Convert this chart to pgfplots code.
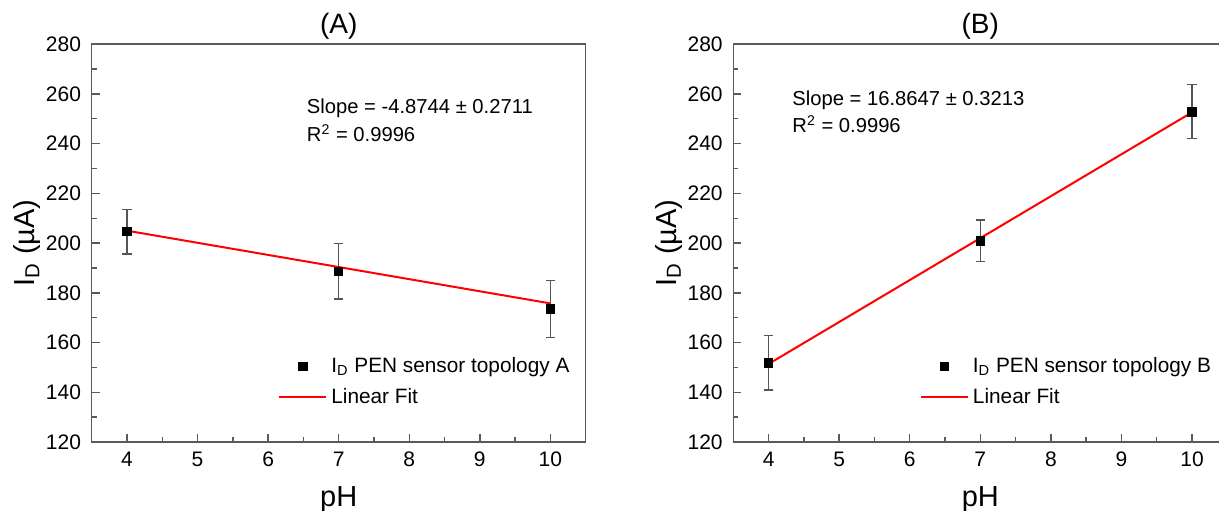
\documentclass[border=0pt]{standalone}
\usepackage{fontspec}
\setmainfont{Liberation Sans}
\usepackage{pgfplots}
\usepackage{pgfplotstable}
\pgfplotsset{compat=1.18}

\definecolor{axisgray}{HTML}{5A5A5A}
\definecolor{errgray}{HTML}{555555}

% pH, drain current (uA), standard deviation
\pgfplotstableread{
pH   ID     err
4    204.6  9.0
7    188.7  11.2
10   173.5  11.6
}\dataA
\pgfplotstableread{
pH   ID     err
4    151.8  10.9
7    200.9  8.4
10   252.8  10.9
}\dataB

\newcommand{\annofont}{\fontsize{10.1}{12}\selectfont}

\pgfplotsset{
  every axis title shift=0pt,
  panel/.style={
    scale only axis, width=247pt, height=198.9pt,
    anchor=south west,
    xmin=3.5, xmax=10.5, ymin=120, ymax=280,
    xtick={4,5,...,10}, ytick={120,140,...,280},
    minor x tick num=1, minor y tick num=1,
    tick align=inside, xtick pos=bottom, ytick pos=left,
    axis line style={draw=axisgray, line width=0.8pt},
    major tick length=4pt, minor tick length=2.5pt,
    every tick/.style={draw=axisgray, line width=0.7pt},
    tick label style={font=\fontsize{10.5}{12}\selectfont},
    /pgf/number format/assume math mode=true,
    yticklabel style={xshift=-1.8pt},
    xticklabel style={yshift=-1.5pt},
    label style={font=\fontsize{14.5}{17}\selectfont},
    xlabel style={yshift=-3pt},
    ylabel style={at={(axis description cs:-0.13,0.5)}, anchor=center},
    title style={font=\fontsize{14}{16}\selectfont, at={(axis description cs:0.5,1)}, anchor=center, yshift=8.8pt},
    legend cell align=left,
    legend image code/.code={\draw[mark repeat=2, mark phase=2, ##1] plot coordinates {(0pt,0pt) (11.75pt,0pt) (23.5pt,0pt)};},
    legend style={draw=none, fill=none, font=\fontsize{10.4}{12}\selectfont,
      row sep=2.5pt, inner sep=0pt, anchor=west, at={(axis description cs:0.377,0.151)}},
    clip=false,
  },
  pts/.style={only marks, mark=square*, mark size=2.1pt, black,
    error bars/.cd, y dir=both, y explicit,
    error bar style={draw=errgray, line width=0.55pt},
    error mark options={rotate=90, mark size=2.4pt, draw=errgray, line width=0.55pt}},
  fit/.style={red, line width=1pt, no marks},
}

\begin{document}
\begin{tikzpicture}
\path[use as bounding box] (0,0) rectangle (609.5pt,255pt);

% (A) topology A
\begin{axis}[panel, at={(45.85pt,34pt)},
  title={(A)}, xlabel={pH}, ylabel={I\textsubscript{D} (µA)}]
  \addplot[pts] table[x=pH, y=ID, y error=err] {\dataA};
  \addlegendentry{I\textsubscript{D} PEN sensor topology A}
  \addplot[fit] coordinates {(4,205.0) (10,175.75)};
  \addlegendentry{Linear Fit}
  \node[anchor=base west, inner sep=0pt, font=\annofont]
    at (axis description cs:0.435,0.826) {Slope = -4.8744 ± 0.2711};
  \node[anchor=base west, inner sep=0pt, font=\annofont]
    at (axis description cs:0.435,0.755) {R\textsuperscript{2} = 0.9996};
\end{axis}

% (B) topology B
\begin{axis}[panel, at={(366.65pt,34pt)},
  title={(B)}, xlabel={pH}, ylabel={I\textsubscript{D} (µA)}]
  \addplot[pts] table[x=pH, y=ID, y error=err] {\dataB};
  \addlegendentry{I\textsubscript{D} PEN sensor topology B}
  \addplot[fit] coordinates {(4,151.4) (10,252.6)};
  \addlegendentry{Linear Fit}
  \node[anchor=base west, inner sep=0pt, font=\annofont]
    at (axis description cs:0.119,0.846) {Slope = 16.8647 ± 0.3213};
  \node[anchor=base west, inner sep=0pt, font=\annofont]
    at (axis description cs:0.119,0.778) {R\textsuperscript{2} = 0.9996};
\end{axis}
\end{tikzpicture}
\end{document}
